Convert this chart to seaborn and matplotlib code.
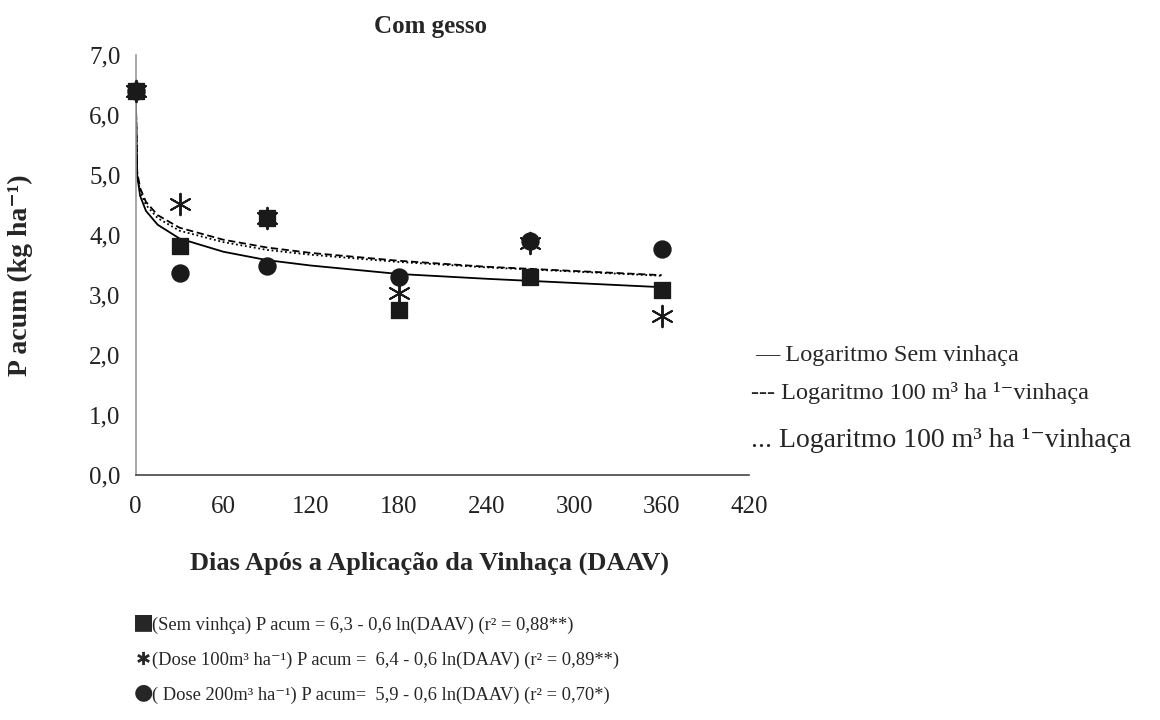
import numpy as np
import pandas as pd
from matplotlib import pyplot as plt
import seaborn as sns

# observed points (days after vinasse application)
dias = [0, 30, 90, 180, 270, 360]
sem_vinhaca = [6.40, 3.82, 4.28, 2.75, 3.30, 3.09]
dose_100 = [6.40, 4.52, 4.28, 3.03, 3.86, 2.65]
dose_200 = [6.40, 3.36, 3.49, 3.30, 3.90, 3.77]

# trend curves
curva_x = [0, 1, 3, 7, 15, 30, 60, 90, 120, 180, 240, 300, 360]
curva_sem = [6.40, 5.00, 4.65, 4.40, 4.17, 3.94, 3.72, 3.58, 3.49, 3.35, 3.27, 3.20, 3.13]
curva_100 = [6.40, 5.05, 4.78, 4.55, 4.33, 4.12, 3.92, 3.79, 3.70, 3.57, 3.47, 3.40, 3.33]
curva_200 = [6.40, 5.00, 4.72, 4.50, 4.28, 4.07, 3.88, 3.75, 3.67, 3.55, 3.46, 3.39, 3.32]

x_ticks = [0, 60, 120, 180, 240, 300, 360, 420]
y_ticks = [0, 1, 2, 3, 4, 5, 6, 7]

legenda = ['— Logaritmo Sem vinhaça',
           '--- Logaritmo 100 m³ ha ¹⁻vinhaça',
           '... Logaritmo 100 m³ ha ¹⁻vinhaça']
simbolos = ['■', '✱', '●']
equacoes = ['(Sem vinhça) P acum = 6,3 - 0,6 ln(DAAV) (r² = 0,88**)',
            '(Dose 100m³ ha⁻¹) P acum =  6,4 - 0,6 ln(DAAV) (r² = 0,89**)',
            '( Dose 200m³ ha⁻¹) P acum=  5,9 - 0,6 ln(DAAV) (r² = 0,70*)']

sns.set_style('white')
plt.rcParams['font.family'] = ['Liberation Serif', 'DejaVu Sans']

fig = plt.figure(figsize=(11.6, 7.2), dpi=100)
ax = fig.add_axes([0.117, 0.340, 0.529, 0.584])

sns.lineplot(x=curva_x, y=curva_sem, ax=ax, color='black', lw=1.3, sort=False)
sns.lineplot(x=curva_x, y=curva_100, ax=ax, color='black', lw=1.3, sort=False, linestyle=(0, (4, 2)))
sns.lineplot(x=curva_x, y=curva_200, ax=ax, color='black', lw=1.3, sort=False, linestyle=(0, (1, 1.5)))

sns.scatterplot(x=dias, y=dose_200, ax=ax, marker='o', s=150, color='#1a1a1a', edgecolor='#1a1a1a', clip_on=False, zorder=4)
ax.scatter(dias, dose_100, marker=(6, 2, 0), s=240, color='#1a1a1a', linewidths=1.4, clip_on=False, zorder=5)
sns.scatterplot(x=dias, y=sem_vinhaca, ax=ax, marker='s', s=140, color='#1a1a1a', edgecolor='#1a1a1a', clip_on=False, zorder=6)

ax.set_xlim(0, 420)
ax.set_ylim(0, 7)
ax.set_xticks(x_ticks)
ax.set_yticks(y_ticks)
ax.set_xticklabels([str(v) for v in x_ticks])
ax.set_yticklabels([f'{v:.1f}'.replace('.', ',') for v in y_ticks])
ax.tick_params(axis='both', labelsize=18, length=5, width=1, direction='out', colors='#222222')
ax.tick_params(axis='y', color='#999999', pad=6)
ax.tick_params(axis='x', color='#555555', pad=10)
for s in ['top', 'right']:
    ax.spines[s].set_visible(False)
ax.spines['left'].set_color('#999999')
ax.spines['bottom'].set_color('#444444')
ax.spines['left'].set_linewidth(1.2)
ax.spines['bottom'].set_linewidth(1.2)
ax.set_xlabel('')
ax.set_ylabel('')

fig.text(430 / 1160, 1 - 27 / 720, 'Com gesso', ha='center', va='center', fontsize=18, fontweight='bold')
fig.text(430 / 1160, 1 - 563 / 720, 'Dias Após a Aplicação da Vinhaça (DAAV)', ha='center', va='center',
         fontsize=19, fontweight='bold')
fig.text(20 / 1160, 1 - 275 / 720, 'P acum (kg ha⁻¹)', ha='center', va='center', rotation=90,
         fontsize=20, fontweight='bold')

fig.text(755 / 1160, 1 - 355 / 720, legenda[0], ha='left', va='center', fontsize=17.5)
fig.text(751 / 1160, 1 - 393 / 720, legenda[1], ha='left', va='center', fontsize=17.5)
fig.text(751 / 1160, 1 - 440 / 720, legenda[2], ha='left', va='center', fontsize=20)

for i, (sim, eq) in enumerate(zip(simbolos, equacoes)):
    y = 1 - (625 + 35 * i) / 720
    dy = 0 if i == 1 else 3 / 720
    fig.text(143 / 1160, y + dy, sim, ha='center', va='center', fontsize=16 if i != 1 else 13,
             family=['DejaVu Sans'])
    fig.text(152 / 1160, y, eq, ha='left', va='center', fontsize=13.3)

fig.savefig('out.png', dpi=100, facecolor='white')
